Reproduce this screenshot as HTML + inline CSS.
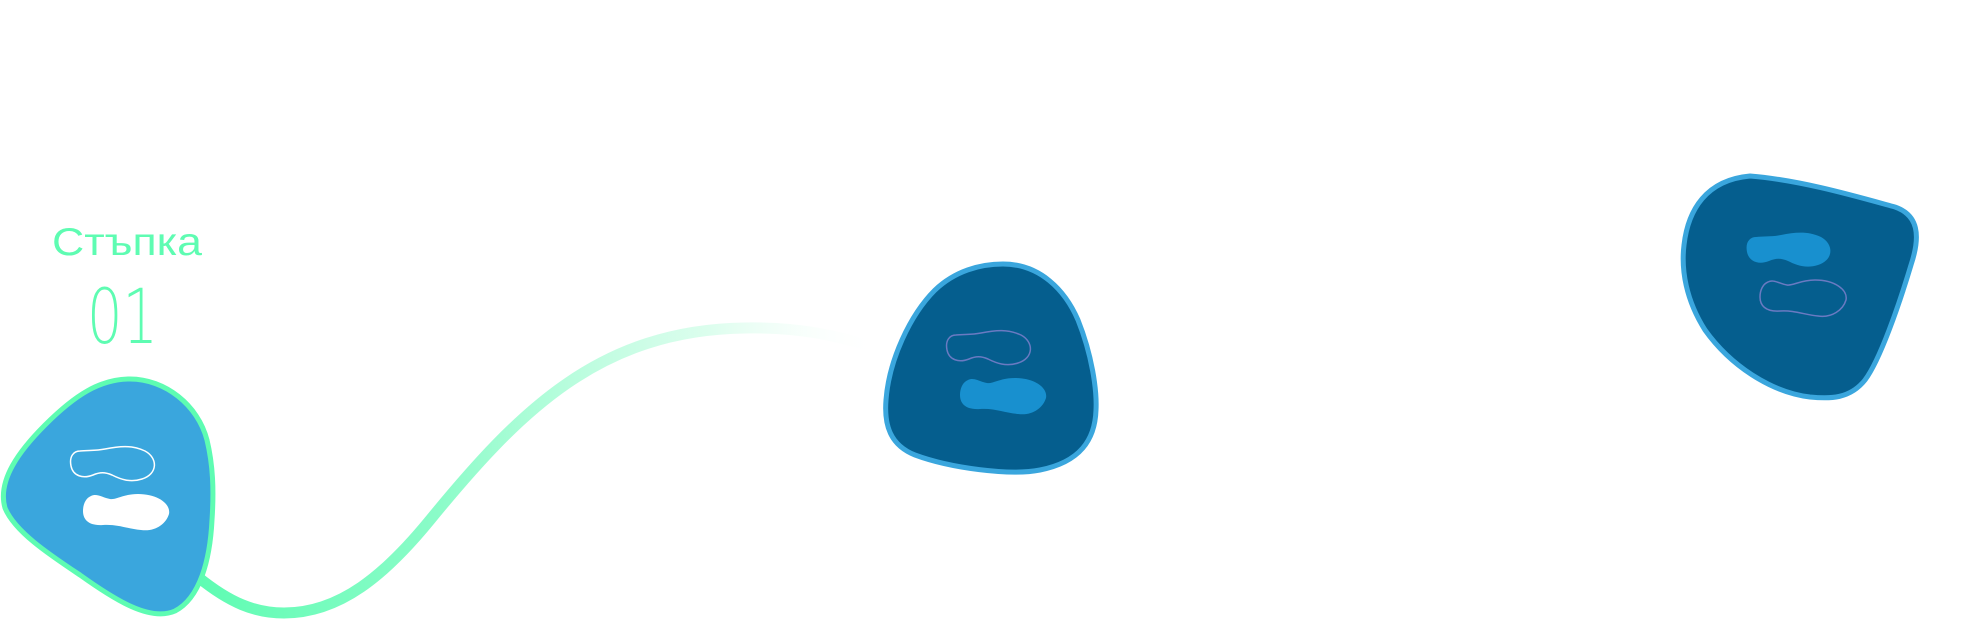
<!DOCTYPE html>
<html><head><meta charset="utf-8"><style>
html,body{margin:0;padding:0;background:#fff;}
svg{display:block;}
</style></head><body>
<svg width="1971" height="628" viewBox="0 0 1971 628" xmlns="http://www.w3.org/2000/svg">
<defs>
<linearGradient id="g" x1="198" y1="0" x2="880" y2="0" gradientUnits="userSpaceOnUse">
<stop offset="0" stop-color="#5efcb2" stop-opacity="1"/>
<stop offset="0.35" stop-color="#7dfcc2" stop-opacity="0.9"/>
<stop offset="0.75" stop-color="#b9fcdc" stop-opacity="0.5"/>
<stop offset="1" stop-color="#ffffff" stop-opacity="0"/>
</linearGradient>
</defs>
<path d="M198,577 C230,603 255,613 284,613 C340,613 385,575 430,520 C520,410 600,330 745,328 C800,327 840,336 875,348" fill="none" stroke="url(#g)" stroke-width="11"/>

<text x="52" y="255" font-family="'Liberation Sans', sans-serif" font-size="39" fill="#5efcb2" textLength="150" lengthAdjust="spacingAndGlyphs">Стъпка</text>
<text x="87" y="343" font-family="'DejaVu Sans','Liberation Sans', sans-serif" font-weight="200" font-size="76" fill="#5efcb2" textLength="71" lengthAdjust="spacingAndGlyphs">01</text>

<path d="M130,379 C165,379 198,405 207,440 C213,465 214,490 212,520 C210,560 200,598 175,611 C150,622 115,600 80,575 C50,555 15,532 5,508 C-3,480 20,450 45,425 C75,395 100,379 130,379 Z" fill="#3aa6dd" stroke="#5efcb2" stroke-width="5"/>
<path transform="translate(70,446)" d="M10,5 C18,4 25,5 35,3 C50,0 62,-1 75,5 C88,12 88,28 72,33 C60,37 50,33 42,29 C35,26 30,26 23,29 C13,33 3,30 1,20 C-1,10 4,5 10,5 Z" fill="none" stroke="#fff" stroke-width="1.5"/>
<path transform="translate(83,494)" d="M8,2 C14,-1 20,4 27,5 C33,6 40,0 55,0 C75,0 88,10 86,20 C83,30 72,38 58,36 C45,35 35,30 20,31 C5,32 0,25 0,17 C0,10 3,4 8,2 Z" fill="#fff"/>

<path d="M1003,264 C1040,264 1065,290 1078,320 C1092,355 1097,390 1096,410 C1095,440 1080,462 1040,470 C1010,476 950,468 915,455 C890,445 884,425 886,400 C889,360 910,315 935,290 C955,271 980,264 1003,264 Z" fill="#055e8e" stroke="#3aa6dd" stroke-width="5"/>
<path transform="translate(946,330)" d="M10,5 C18,4 25,5 35,3 C50,0 62,-1 75,5 C88,12 88,28 72,33 C60,37 50,33 42,29 C35,26 30,26 23,29 C13,33 3,30 1,20 C-1,10 4,5 10,5 Z" fill="none" stroke="#6a7ac2" stroke-width="1.5"/>
<path transform="translate(960,378)" d="M8,2 C14,-1 20,4 27,5 C33,6 40,0 55,0 C75,0 88,10 86,20 C83,30 72,38 58,36 C45,35 35,30 20,31 C5,32 0,25 0,17 C0,10 3,4 8,2 Z" fill="#1890cf"/>

<path d="M1750,176 C1800,180 1855,196 1895,207 C1918,215 1921,235 1911,265 C1899,305 1880,360 1865,380 C1850,399 1830,399 1810,397 C1770,392 1730,365 1705,330 C1686,300 1681,270 1684,245 C1688,210 1706,180 1750,176 Z" fill="#055e8e" stroke="#3aa6dd" stroke-width="5"/>
<path transform="translate(1746,232)" d="M10,5 C18,4 25,5 35,3 C50,0 62,-1 75,5 C88,12 88,28 72,33 C60,37 50,33 42,29 C35,26 30,26 23,29 C13,33 3,30 1,20 C-1,10 4,5 10,5 Z" fill="#1890cf"/>
<path transform="translate(1760,280)" d="M8,2 C14,-1 20,4 27,5 C33,6 40,0 55,0 C75,0 88,10 86,20 C83,30 72,38 58,36 C45,35 35,30 20,31 C5,32 0,25 0,17 C0,10 3,4 8,2 Z" fill="none" stroke="#6a7ac2" stroke-width="1.5"/>
</svg>
</body></html>
